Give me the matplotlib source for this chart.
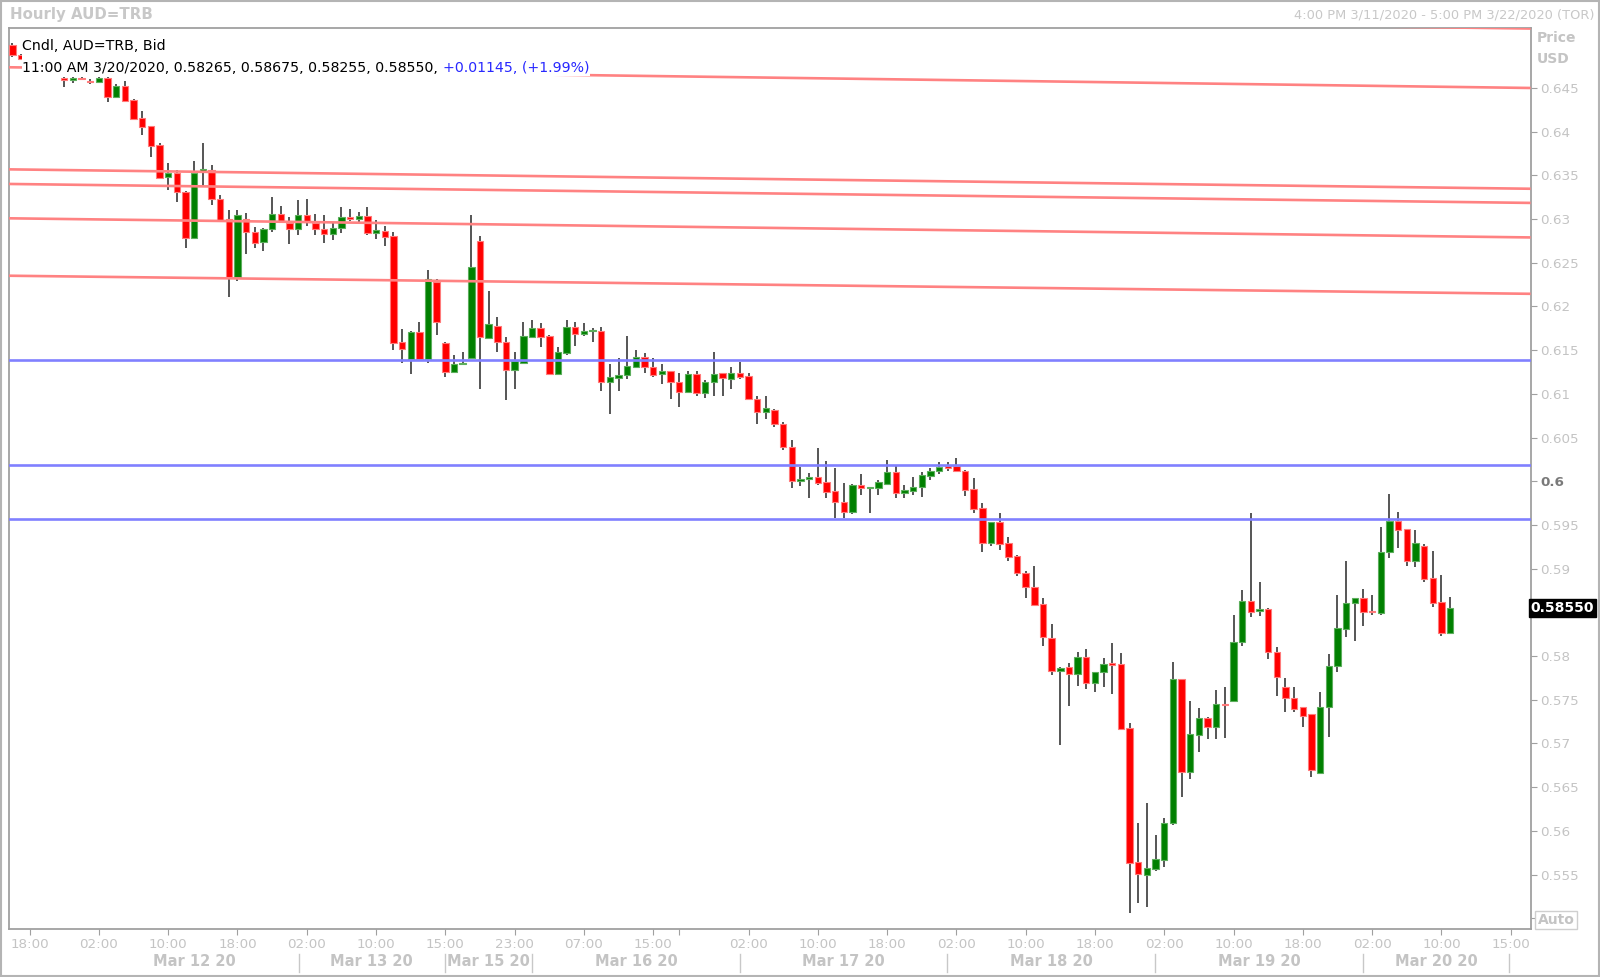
# Grafico horario AUD=TRB (velas) con lineas de tendencia y soportes horizontales.
import numpy as np
import matplotlib
matplotlib.use("Agg")
import matplotlib.pyplot as plt
from matplotlib.patches import Rectangle

# ── Datos: velas horarias desde 16:00 del 11/03 hasta 11:00 del 20/03 ──────────
opens = [0.64992, 0.64878, 0.64832, 0.64760, 0.64790, 0.64680, 0.64611, 0.64590, 0.64611, 0.64584,
         0.64565, 0.64611, 0.64401, 0.64523, 0.64363, 0.64153, 0.64065, 0.63848, 0.63478, 0.63531,
         0.63314, 0.62780, 0.63554, 0.63562, 0.63226, 0.62997, 0.62334, 0.62997, 0.62849, 0.62734,
         0.62883, 0.63058, 0.62959, 0.62883, 0.63047, 0.62959, 0.62891, 0.62830, 0.62894, 0.63020,
         0.62997, 0.63036, 0.62845, 0.62868, 0.62807, 0.61590, 0.61399, 0.61712, 0.61399, 0.62284,
         0.61586, 0.61247, 0.61338, 0.61415, 0.62749, 0.61643, 0.61781, 0.61590, 0.61274, 0.61350,
         0.61655, 0.61750, 0.61663, 0.61228, 0.61472, 0.61769, 0.61682, 0.61724, 0.61724, 0.61132,
         0.61185, 0.61216, 0.61304, 0.61418, 0.61312, 0.61224, 0.61266, 0.61140, 0.61018, 0.61228,
         0.61014, 0.61132, 0.61235, 0.61171, 0.61235, 0.61205, 0.60942, 0.60797, 0.60816, 0.60656,
         0.60396, 0.60003, 0.60023, 0.60045, 0.59996, 0.59889, 0.59759, 0.59645, 0.59958, 0.59920,
         0.59927, 0.59969, 0.60110, 0.59862, 0.59893, 0.59931, 0.60064, 0.60118, 0.60175, 0.60175,
         0.60122, 0.59908, 0.59691, 0.59290, 0.59538, 0.59298, 0.59145, 0.58947, 0.58794, 0.58592,
         0.58203, 0.57833, 0.57872, 0.57795, 0.57986, 0.57688, 0.57822, 0.57917, 0.57906, 0.57174,
         0.55648, 0.55495, 0.55560, 0.55667, 0.56094, 0.57734, 0.56670, 0.57097, 0.57288, 0.57185,
         0.57452, 0.57490, 0.58158, 0.58630, 0.58516, 0.58535, 0.58051, 0.57650, 0.57517, 0.57414,
         0.57338, 0.56666, 0.57414, 0.57887, 0.58310, 0.58604, 0.58661, 0.58516, 0.58489, 0.59187,
         0.59550, 0.59450, 0.59092, 0.59264, 0.58890, 0.58623, 0.58265]
highs = [0.65015, 0.64890, 0.64870, 0.64820, 0.64810, 0.64700, 0.64620, 0.64620, 0.64620, 0.64600,
         0.64620, 0.64620, 0.64546, 0.64584, 0.64370, 0.64241, 0.64070, 0.63867, 0.63638, 0.63562,
         0.63320, 0.63669, 0.63867, 0.63619, 0.63276, 0.63104, 0.63104, 0.63074, 0.62914, 0.62902,
         0.63249, 0.63154, 0.63020, 0.63219, 0.63230, 0.63058, 0.63047, 0.62971, 0.63142, 0.63112,
         0.63085, 0.63135, 0.62990, 0.62921, 0.62856, 0.61739, 0.61724, 0.61819, 0.62418, 0.62311,
         0.61598, 0.61445, 0.61483, 0.63047, 0.62807, 0.62177, 0.61884, 0.61655, 0.61483, 0.61826,
         0.61846, 0.61815, 0.61674, 0.61533, 0.61846, 0.61827, 0.61815, 0.61750, 0.61769, 0.61342,
         0.61407, 0.61663, 0.61502, 0.61472, 0.61407, 0.61342, 0.61266, 0.61235, 0.61266, 0.61266,
         0.61159, 0.61483, 0.61243, 0.61312, 0.61365, 0.61235, 0.60980, 0.60976, 0.60830, 0.60682,
         0.60473, 0.60160, 0.60099, 0.60377, 0.60232, 0.60148, 0.59977, 0.59969, 0.60084, 0.59931,
         0.60015, 0.60244, 0.60187, 0.59958, 0.60046, 0.60110, 0.60156, 0.60217, 0.60225, 0.60263,
         0.60129, 0.60034, 0.59748, 0.59538, 0.59641, 0.59359, 0.59160, 0.58978, 0.59031, 0.58661,
         0.58364, 0.57879, 0.57925, 0.58043, 0.58077, 0.57822, 0.57975, 0.58154, 0.58032, 0.57231,
         0.56094, 0.56323, 0.55953, 0.56144, 0.57936, 0.57734, 0.57490, 0.57402, 0.57307, 0.57612,
         0.57643, 0.58470, 0.58756, 0.59634, 0.58852, 0.58546, 0.58108, 0.57753, 0.57650, 0.57414,
         0.57338, 0.57593, 0.58024, 0.58699, 0.59083, 0.58661, 0.58768, 0.58699, 0.59481, 0.59855,
         0.59645, 0.59450, 0.59443, 0.59279, 0.59203, 0.58928, 0.58675]
lows = [0.64860, 0.64820, 0.64720, 0.64730, 0.64660, 0.64645, 0.64515, 0.64553, 0.64590, 0.64550,
        0.64553, 0.64344, 0.64390, 0.64340, 0.64140, 0.63962, 0.63707, 0.63460, 0.63333, 0.63199,
        0.62666, 0.62770, 0.63379, 0.63161, 0.62980, 0.62113, 0.62296, 0.62601, 0.62673, 0.62639,
        0.62856, 0.62971, 0.62711, 0.62818, 0.62921, 0.62818, 0.62723, 0.62761, 0.62837, 0.62978,
        0.62971, 0.62818, 0.62772, 0.62692, 0.61502, 0.61350, 0.61224, 0.61388, 0.61350, 0.61674,
        0.61190, 0.61235, 0.61338, 0.61407, 0.61052, 0.61624, 0.61475, 0.60930, 0.61056, 0.61350,
        0.61647, 0.61533, 0.61228, 0.61228, 0.61445, 0.61552, 0.61663, 0.61598, 0.61037, 0.60770,
        0.61037, 0.61167, 0.61293, 0.61243, 0.61197, 0.61113, 0.60938, 0.60846, 0.61007, 0.60980,
        0.60949, 0.60980, 0.60980, 0.61056, 0.61171, 0.60930, 0.60656, 0.60709, 0.60625, 0.60358,
        0.59919, 0.59950, 0.59813, 0.59958, 0.59813, 0.59584, 0.59584, 0.59622, 0.59843, 0.59641,
        0.59843, 0.59958, 0.59813, 0.59813, 0.59843, 0.59817, 0.60015, 0.60080, 0.60118, 0.60110,
        0.59836, 0.59641, 0.59195, 0.59260, 0.59214, 0.59092, 0.58920, 0.58661, 0.58585, 0.58116,
        0.57784, 0.56983, 0.57429, 0.57658, 0.57620, 0.57593, 0.57643, 0.57566, 0.57155, 0.55064,
        0.55179, 0.55125, 0.55545, 0.55591, 0.56063, 0.56392, 0.56594, 0.56907, 0.57048, 0.57048,
        0.57059, 0.57490, 0.58116, 0.58444, 0.58463, 0.57963, 0.57547, 0.57364, 0.57364, 0.57185,
        0.56621, 0.56659, 0.57078, 0.57822, 0.58215, 0.58177, 0.58344, 0.58470, 0.58470, 0.59126,
        0.59233, 0.59035, 0.59016, 0.58844, 0.58558, 0.58234, 0.58255]
closes = [0.64878, 0.64832, 0.64760, 0.64790, 0.64680, 0.64660, 0.64590, 0.64611, 0.64600, 0.64565,
          0.64611, 0.64401, 0.64523, 0.64355, 0.64149, 0.64058, 0.63836, 0.63474, 0.63524, 0.63314,
          0.62780, 0.63524, 0.63569, 0.63226, 0.62990, 0.62334, 0.63047, 0.62857, 0.62730, 0.62887,
          0.63058, 0.62978, 0.62883, 0.63047, 0.62971, 0.62883, 0.62830, 0.62902, 0.63020, 0.62997,
          0.63036, 0.62837, 0.62875, 0.62799, 0.61586, 0.61514, 0.61704, 0.61399, 0.62311, 0.61827,
          0.61247, 0.61338, 0.61350, 0.62456, 0.61647, 0.61796, 0.61598, 0.61273, 0.61376, 0.61663,
          0.61750, 0.61655, 0.61228, 0.61476, 0.61762, 0.61682, 0.61724, 0.61726, 0.61132, 0.61190,
          0.61212, 0.61323, 0.61418, 0.61304, 0.61216, 0.61262, 0.61132, 0.61026, 0.61228, 0.61014,
          0.61140, 0.61228, 0.61178, 0.61235, 0.61197, 0.60938, 0.60797, 0.60835, 0.60656, 0.60396,
          0.60003, 0.60026, 0.60045, 0.59977, 0.59881, 0.59767, 0.59645, 0.59958, 0.59920, 0.59931,
          0.59996, 0.60110, 0.59862, 0.59900, 0.59939, 0.60072, 0.60122, 0.60167, 0.60156, 0.60118,
          0.59900, 0.59679, 0.59290, 0.59538, 0.59283, 0.59138, 0.58955, 0.58787, 0.58585, 0.58215,
          0.57830, 0.57868, 0.57795, 0.57986, 0.57688, 0.57822, 0.57910, 0.57898, 0.57166, 0.55637,
          0.55507, 0.55572, 0.55675, 0.56094, 0.57734, 0.56670, 0.57109, 0.57288, 0.57185, 0.57452,
          0.57441, 0.58166, 0.58630, 0.58501, 0.58535, 0.58051, 0.57765, 0.57517, 0.57391, 0.57318,
          0.56697, 0.57421, 0.57891, 0.58318, 0.58604, 0.58661, 0.58508, 0.58508, 0.59195, 0.59550,
          0.59443, 0.59092, 0.59290, 0.58882, 0.58611, 0.58268, 0.58550]

# lineas de tendencia rojas (precio en el borde izquierdo y derecho) y soportes azules
trend_left = [0.64737, 0.63569, 0.63402, 0.63009, 0.62352, 0.65410]
trend_right = [0.64500, 0.63347, 0.63185, 0.62790, 0.62145, 0.65180]
support_levels = [0.61384, 0.60187, 0.59565]

price_ticks = [0.645, 0.64, 0.635, 0.63, 0.625, 0.62, 0.615, 0.61, 0.605, 0.6, 0.595, 0.59,
               0.585, 0.58, 0.575, 0.57, 0.565, 0.56, 0.555, 0.55]
price_labels = ["0.645", "0.64", "0.635", "0.63", "0.625", "0.62", "0.615", "0.61", "0.605", "0.6",
                "0.595", "0.59", "", "0.58", "0.575", "0.57", "0.565", "0.56", "0.555", ""]
hour_pos = [2, 10, 18, 26, 34, 42, 50, 58, 66, 74, 77, 85, 93, 101, 109, 117, 125, 133, 141, 149,
            157, 165, 173]
hour_labels = ["18:00", "02:00", "10:00", "18:00", "02:00", "10:00", "15:00", "23:00", "07:00",
               "15:00", "", "02:00", "10:00", "18:00", "02:00", "10:00", "18:00", "02:00", "10:00",
               "18:00", "02:00", "10:00", "15:00"]
day_pos = [21, 41.5, 55, 72, 96, 120, 144, 164.4]
day_labels = ["Mar 12 20", "Mar 13 20", "Mar 15 20", "Mar 16 20", "Mar 17 20", "Mar 18 20",
              "Mar 19 20", "Mar 20 20"]
day_breaks = [33.05, 50, 60, 84, 107.9, 131.9, 155.9, 172.8]
prev_close = 0.57405

GRIS = "#c4c4c4"
BORDE = "#a0a0a0"
W, H = 1600, 977


def fx(x):
    return x / W


def fy(y):
    return 1 - y / H


fig = plt.figure(figsize=(16, 9.77), dpi=100)
fig.patch.set_facecolor("white")
ax = fig.add_axes([fx(8.5), fy(928.6), fx(1530.6) - fx(8.5), fy(27.5) - fy(928.6)])

o = np.array(opens); h = np.array(highs); l = np.array(lows); c = np.array(closes)
idx = np.arange(len(o))
sube = c >= o

# ── Velas ────────────────────────────────────────────────────────────────────
ax.vlines(idx, l, h, color="#383838", lw=1.2, zorder=2)
alto = np.maximum(np.abs(c - o), 0.00006)
base = np.minimum(o, c)
ax.bar(idx[sube], alto[sube], bottom=base[sube], width=0.74, color="#008000",
       edgecolor="#5cae5c", lw=0.8, zorder=3)
ax.bar(idx[~sube], alto[~sube], bottom=base[~sube], width=0.74, color="#ff0000",
       edgecolor="#ff7a7a", lw=0.8, zorder=3)

XL = (-0.44, 175.3)
for pl, pr in zip(trend_left, trend_right):
    ax.plot(XL, [pl, pr], color="#ff8282", lw=1.9, zorder=4, solid_capstyle="butt")
for lv in support_levels:
    ax.axhline(lv, color="#8080ff", lw=1.9, zorder=4)

ax.set_xlim(*XL)
ax.set_ylim(0.54882, 0.65192)

# ── Ejes ─────────────────────────────────────────────────────────────────────
ax.yaxis.tick_right()
ax.set_yticks(price_ticks, price_labels)
ax.tick_params(axis="y", direction="out", length=4, color=BORDE, labelcolor=GRIS,
               labelsize=9.7, pad=3)
for t in ax.get_yticklabels():
    if t.get_text() == "0.6":
        t.set_fontweight("bold"); t.set_color("#7a7a7a")
ax.set_xticks(hour_pos, hour_labels)
ax.tick_params(axis="x", direction="out", length=4, color=BORDE, labelcolor=GRIS,
               labelsize=9.7, pad=3)
for sp in ax.spines.values():
    sp.set_edgecolor(BORDE); sp.set_linewidth(1.3)

tx = ax.get_xaxis_transform()
y_day = -(962 - 928.6) / 901.1
for p, lab in zip(day_pos, day_labels):
    ax.text(p, y_day, lab, transform=tx, ha="center", va="center", fontsize=10.5,
            fontweight="bold", color=GRIS, clip_on=False)
for p in day_breaks:
    ax.plot([p, p], [-(954 - 928.6) / 901.1, -(972 - 928.6) / 901.1], transform=tx,
            color="#c8c8c8", lw=1, clip_on=False)

# precio actual
ax.text(1.0, closes[-1], f"{closes[-1]:.5f}", transform=ax.get_yaxis_transform(), ha="left",
        va="center", color="white", fontsize=10, fontweight="bold", zorder=10, clip_on=False,
        bbox=dict(boxstyle="square,pad=0.12", fc="black", ec="black"))

# ── Leyenda (caja blanca que tapa el arranque del grafico) ───────────────────
fig.add_artist(Rectangle((fx(22), fy(76)), fx(590) - fx(22), fy(28.5) - fy(76),
                         transform=fig.transFigure, facecolor="white", edgecolor="none", zorder=2))
fig.text(fx(22.5), fy(46), "Cndl, AUD=TRB, Bid", fontsize=10.2, color="black", va="center",
         zorder=3)
t1 = fig.text(fx(22.5), fy(67.5),
              f"11:00 AM 3/20/2020, {opens[-1]:.5f}, {highs[-1]:.5f}, {lows[-1]:.5f}, {closes[-1]:.5f}, ",
              fontsize=10.2, color="black", va="center", zorder=3)
fig.canvas.draw()
bb = t1.get_window_extent(renderer=fig.canvas.get_renderer())
chg = closes[-1] - prev_close
fig.text(bb.x1 / fig.bbox.width, fy(67.5), f"+{chg:.5f}, (+{chg / prev_close * 100:.2f}%)",
         fontsize=10.2, color="#2828ff", va="center", zorder=3)

# ── Cabecera y rotulos ───────────────────────────────────────────────────────
fig.text(fx(10), fy(15), "Hourly AUD=TRB", fontsize=10.8, fontweight="bold", color="#c8c8c8",
         va="center")
fig.text(fx(1594), fy(15), "4:00 PM 3/11/2020 - 5:00 PM 3/22/2020 (TOR)", fontsize=9.4,
         color="#c8c8c8", va="center", ha="right")
fig.text(fx(1537), fy(38), "Price", fontsize=10, fontweight="bold", color=GRIS, va="center")
fig.text(fx(1537), fy(59), "USD", fontsize=10, fontweight="bold", color=GRIS, va="center")
fig.text(fx(1556), fy(920), "Auto", fontsize=10, fontweight="bold", color=GRIS, va="center",
         ha="center", bbox=dict(boxstyle="square,pad=0.15", fc="white", ec="#cfcfcf", lw=1))
fig.add_artist(Rectangle((0.0005, 0.001), 0.999, 0.998, transform=fig.transFigure,
                         facecolor="none", edgecolor="#b4b4b4", lw=1.5))

fig.savefig("out.png", dpi=100, facecolor="white")
